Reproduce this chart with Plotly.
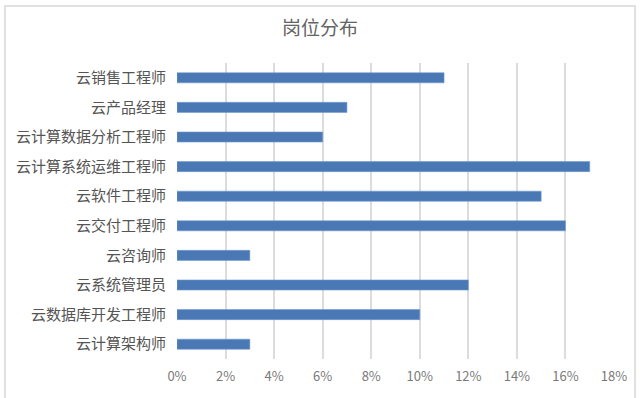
import plotly.graph_objects as go

categories = ["云销售工程师", "云产品经理", "云计算数据分析工程师", "云计算系统运维工程师",
              "云软件工程师", "云交付工程师", "云咨询师", "云系统管理员",
              "云数据库开发工程师", "云计算架构师"]
values = [11, 7, 6, 17, 15, 16, 3, 12, 10, 3]
tick_vals = [0, 2, 4, 6, 8, 10, 12, 14, 16, 18]
tick_text = ["0%", "2%", "4%", "6%", "8%", "10%", "12%", "14%", "16%", "18%"]
title_text = "岗位分布"

font_family = "Noto Sans CJK SC, Noto Sans, sans-serif"

fig = go.Figure(go.Bar(
    x=values,
    y=categories,
    orientation="h",
    marker=dict(color="#4a78b5", line=dict(color="#6f9bd0", width=0.6)),
    width=0.34,
    hoverinfo="x+y",
))

fig.update_layout(
    width=640, height=398,
    margin=dict(l=177, r=26, t=63, b=39),
    paper_bgcolor="white",
    plot_bgcolor="white",
    showlegend=False,
    title=dict(text=title_text, x=0.5, xanchor="center", y=0.93, yanchor="middle",
               font=dict(family=font_family, size=19, color="#646464")),
    xaxis=dict(range=[0, 18], tickvals=tick_vals, ticktext=tick_text,
               showgrid=True, gridcolor="#dcdcdc", gridwidth=1.5,
               zeroline=False, showline=False, ticks="",
               ticklabelstandoff=8,
               tickfont=dict(family=font_family, size=13, color="#7a7a7a")),
    yaxis=dict(categoryorder="array", categoryarray=categories[::-1],
               showgrid=False, zeroline=False, showline=False, ticks="",
               ticklabelstandoff=10,
               tickfont=dict(family=font_family, size=15, color="#555555")),
    shapes=[dict(type="rect", xref="paper", yref="paper",
                 x0=-172/437, x1=1 + 21/437, y0=-80/296, y1=1 + 57/296,
                 line=dict(color="#d8d8d8", width=1.5), fillcolor="rgba(0,0,0,0)",
                 layer="below")],
)

fig.write_html("out.html", config={"displayModeBar": False},
               post_script="document.body.style.margin='0';document.body.style.overflow='hidden';")
